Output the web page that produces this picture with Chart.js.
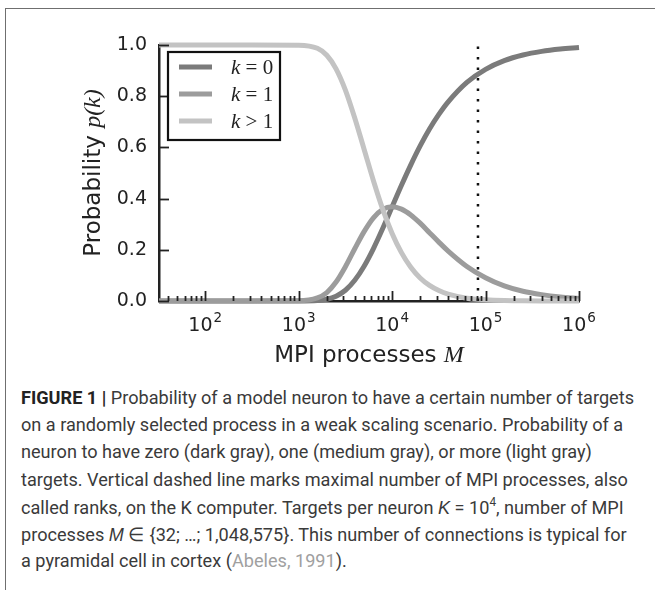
<!DOCTYPE html>
<html>
<head>
<meta charset="utf-8">
<script src="https://cdn.jsdelivr.net/npm/chart.js@4/dist/chart.umd.min.js"></script>
<style>
  body { margin: 0; background: #fff; width: 655px; height: 590px; overflow: hidden; position: relative; }
  #frame { position: absolute; left: 5px; top: 8px; width: 720px; height: 700px; border: 1px solid #6f6f6f; }
  #wrap { position: absolute; left: 0; top: 0; width: 655px; height: 380px; }
  #caption {
    position: absolute; left: 21px; top: 385px; white-space: nowrap;
    font-family: Roboto, "Liberation Sans", sans-serif; font-weight: 400;
    font-size: 18.5px; line-height: 27.2px; color: #3a3a3a;
    transform-origin: 0 0;
  }
  #caption .ln { display: block; height: 27.2px; }
  #caption #first { display: inline; }
  #caption b { font-weight: bold; color: #222; }
  #caption i { font-family: "Liberation Sans", sans-serif; }
  #caption sup { font-size: 12px; line-height: 0; vertical-align: 0; position: relative; top: -8px; }
  #caption .cite { color: #a0a0a0; }
</style>
</head>
<body>
<div id="frame"></div>
<div id="wrap"><canvas id="chart" width="655" height="380"></canvas></div>
<div id="caption">
<span class="ln"><span id="first"><b>FIGURE 1 |</b> Probability of a model neuron to have a certain number of targets</span></span>
<span class="ln">on a randomly selected process in a weak scaling scenario. Probability of a</span>
<span class="ln">neuron to have zero (dark gray), one (medium gray), or more (light gray)</span>
<span class="ln">targets. Vertical dashed line marks maximal number of MPI processes, also</span>
<span class="ln">called ranks, on the K computer. Targets per neuron <i>K</i> = 10<sup>4</sup>, number of MPI</span>
<span class="ln">processes <i>M</i> &isin; {32; &hellip;; 1,048,575}. This number of connections is typical for</span>
<span class="ln">a pyramidal cell in cortex (<span class="cite">Abeles, 1991</span>).</span>
</div>
<script>
// number of MPI processes M (x positions)
const processes = [32, 100, 316, 1000, 1585, 2000, 2512, 3162, 3981, 5012, 6310, 7943, 10000,
  12589, 15849, 19953, 25119, 31623, 39811, 63096, 100000, 158489, 251189, 398107, 630957, 1000000];

// probability of zero targets
const pZero = [0, 0, 0, 0.0001, 0.002, 0.007, 0.019, 0.042, 0.081, 0.136, 0.205, 0.284, 0.368,
  0.452, 0.532, 0.606, 0.672, 0.729, 0.778, 0.854, 0.905, 0.939, 0.961, 0.975, 0.984, 0.990];

// probability of exactly one target
const pOne = [0, 0, 0, 0.0005, 0.012, 0.033, 0.074, 0.134, 0.204, 0.271, 0.325, 0.358, 0.368,
  0.359, 0.336, 0.304, 0.267, 0.230, 0.195, 0.135, 0.091, 0.059, 0.038, 0.025, 0.016, 0.010];

// probability of more than one target
const pMore = [1, 1, 1, 0.9995, 0.987, 0.960, 0.907, 0.824, 0.715, 0.593, 0.470, 0.358, 0.264,
  0.189, 0.132, 0.090, 0.061, 0.041, 0.027, 0.011, 0.005, 0.002, 0.001, 0.0003, 0.0001, 0];

// max ranks on the K computer (dotted line)
const kComputerRanks = 82944;

const xMajorTicks = [100, 1000, 10000, 100000, 1000000];
const xTickExponents = ['2', '3', '4', '5', '6'];
const legendLabels = [['k', ' = 0'], ['k', ' = 1'], ['k', ' > 1']];

const toPoints = (ys) => processes.map((x, i) => ({ x: x, y: ys[i] }));

// squeeze the caption so the first line ends where the original does
(function fitCaption() {
  const cap = document.getElementById('caption');
  const w = document.getElementById('first').getBoundingClientRect().width;
  cap.style.transform = 'scaleX(' + (613 / w) + ')';
})();

// axis titles, inward ticks, superscript tick labels and the boxed legend
const decorations = {
  id: 'decorations',
  afterDraw(chart) {
    const ctx = chart.ctx;
    const xs = chart.scales.x, ys = chart.scales.y;
    const area = chart.chartArea;
    ctx.save();
    ctx.strokeStyle = '#222';
    ctx.lineWidth = 1.8;

    // x ticks pointing inward, major and minor
    for (let e = 1; e <= 6; e++) {
      for (let m = 1; m <= 9; m++) {
        const v = m * Math.pow(10, e);
        if (v < xs.min || v > xs.max) continue;
        const px = Math.round(xs.getPixelForValue(v)) + 0.5;
        const len = m === 1 ? 10 : 5;
        ctx.beginPath();
        ctx.moveTo(px, area.bottom);
        ctx.lineTo(px, area.bottom - len);
        ctx.stroke();
      }
    }
    // y ticks pointing inward
    ys.ticks.forEach(t => {
      const py = Math.round(ys.getPixelForValue(t.value)) + 0.5;
      ctx.beginPath();
      ctx.moveTo(area.left, py);
      ctx.lineTo(area.left + 10, py);
      ctx.stroke();
    });

    // x tick labels 10^n
    ctx.fillStyle = '#222';
    ctx.textBaseline = 'alphabetic';
    xMajorTicks.forEach((v, i) => {
      const px = xs.getPixelForValue(v);
      ctx.font = '19px "DejaVu Sans"';
      const wb = ctx.measureText('10').width;
      ctx.font = '13.5px "DejaVu Sans"';
      const we = ctx.measureText(xTickExponents[i]).width;
      const x0 = px - (wb + we + 1) / 2;
      ctx.font = '19px "DejaVu Sans"';
      ctx.fillText('10', x0, 331);
      ctx.font = '13.5px "DejaVu Sans"';
      ctx.fillText(xTickExponents[i], x0 + wb + 1, 322);
    });

    // x axis title
    const sans = '23px "DejaVu Sans"';
    const ital = 'italic 24px "Liberation Serif"';
    ctx.font = sans;
    const w1 = ctx.measureText('MPI processes ').width;
    ctx.font = ital;
    const w2 = ctx.measureText('M').width;
    let sx = (area.left + area.right) / 2 - (w1 + w2) / 2;
    ctx.font = sans;
    ctx.fillText('MPI processes ', sx, 362);
    ctx.font = ital;
    ctx.fillText('M', sx + w1, 362);

    // y axis title, rotated
    ctx.save();
    ctx.translate(100, (area.top + area.bottom) / 2);
    ctx.rotate(-Math.PI / 2);
    ctx.font = sans;
    const w3 = ctx.measureText('Probability ').width;
    ctx.font = ital;
    const w4 = ctx.measureText('p(k)').width;
    sx = -(w3 + w4) / 2;
    ctx.font = sans;
    ctx.fillText('Probability ', sx, 0);
    ctx.font = ital;
    ctx.fillText('p(k)', sx + w3, 0);
    ctx.restore();

    // legend box
    const lx = 168, ly = 52, lw = 112, lh = 88;
    ctx.fillStyle = '#fff';
    ctx.fillRect(lx, ly, lw, lh);
    ctx.lineWidth = 2.2;
    ctx.strokeStyle = '#111';
    ctx.strokeRect(lx, ly, lw, lh);
    legendLabels.forEach((lab, i) => {
      const ds = chart.data.datasets[i];
      const y = 67 + i * 27;
      ctx.strokeStyle = ds.borderColor;
      ctx.lineWidth = ds.borderWidth;
      ctx.beginPath();
      ctx.moveTo(179, y);
      ctx.lineTo(212, y);
      ctx.stroke();
      ctx.fillStyle = '#222';
      ctx.textBaseline = 'middle';
      ctx.font = 'italic 21px "Liberation Serif"';
      ctx.fillText(lab[0], 231, y + 1);
      const kw = ctx.measureText(lab[0]).width;
      ctx.font = '21px "Liberation Serif"';
      ctx.fillText(lab[1], 231 + kw, y + 1);
    });
    ctx.restore();
  }
};

new Chart(document.getElementById('chart').getContext('2d'), {
  type: 'line',
  data: {
    datasets: [
      { label: 'k=0', data: toPoints(pZero), borderColor: '#7b7b7b', borderWidth: 5, order: 3 },
      { label: 'k=1', data: toPoints(pOne), borderColor: '#9c9c9c', borderWidth: 5, order: 2 },
      { label: 'k>1', data: toPoints(pMore), borderColor: '#c3c3c3', borderWidth: 5, order: 1 },
      {
        label: 'K computer',
        data: [{ x: kComputerRanks, y: 0 }, { x: kComputerRanks, y: 1 }],
        borderColor: '#111', borderWidth: 2.5, borderDash: [2.5, 8], order: 0,
        cubicInterpolationMode: 'default', tension: 0
      }
    ]
  },
  options: {
    responsive: false,
    animation: false,
    layout: { padding: { top: 45, right: 76, left: 0, bottom: 0 } },
    elements: {
      point: { radius: 0 },
      line: { cubicInterpolationMode: 'monotone', fill: false, borderCapStyle: 'butt' }
    },
    datasets: { line: { clip: false } },
    plugins: { legend: { display: false }, tooltip: { enabled: false } },
    scales: {
      x: {
        type: 'logarithmic',
        min: 32,
        max: 1000000,
        afterFit: (s) => { s.height = 79; },
        afterBuildTicks: (s) => { s.ticks = xMajorTicks.map(v => ({ value: v })); },
        grid: { display: false, drawTicks: false },
        border: { display: true, color: '#222', width: 2.5 },
        ticks: { display: false }
      },
      y: {
        min: 0,
        max: 1,
        afterFit: (s) => { s.width = 159; },
        grid: { display: false, drawTicks: false },
        border: { display: true, color: '#222', width: 2.5 },
        ticks: {
          stepSize: 0.2,
          padding: 12,
          color: '#222',
          font: { family: '"DejaVu Sans"', size: 19 },
          callback: (v) => v.toFixed(1)
        }
      }
    }
  },
  plugins: [decorations]
});
</script>
</body>
</html>
